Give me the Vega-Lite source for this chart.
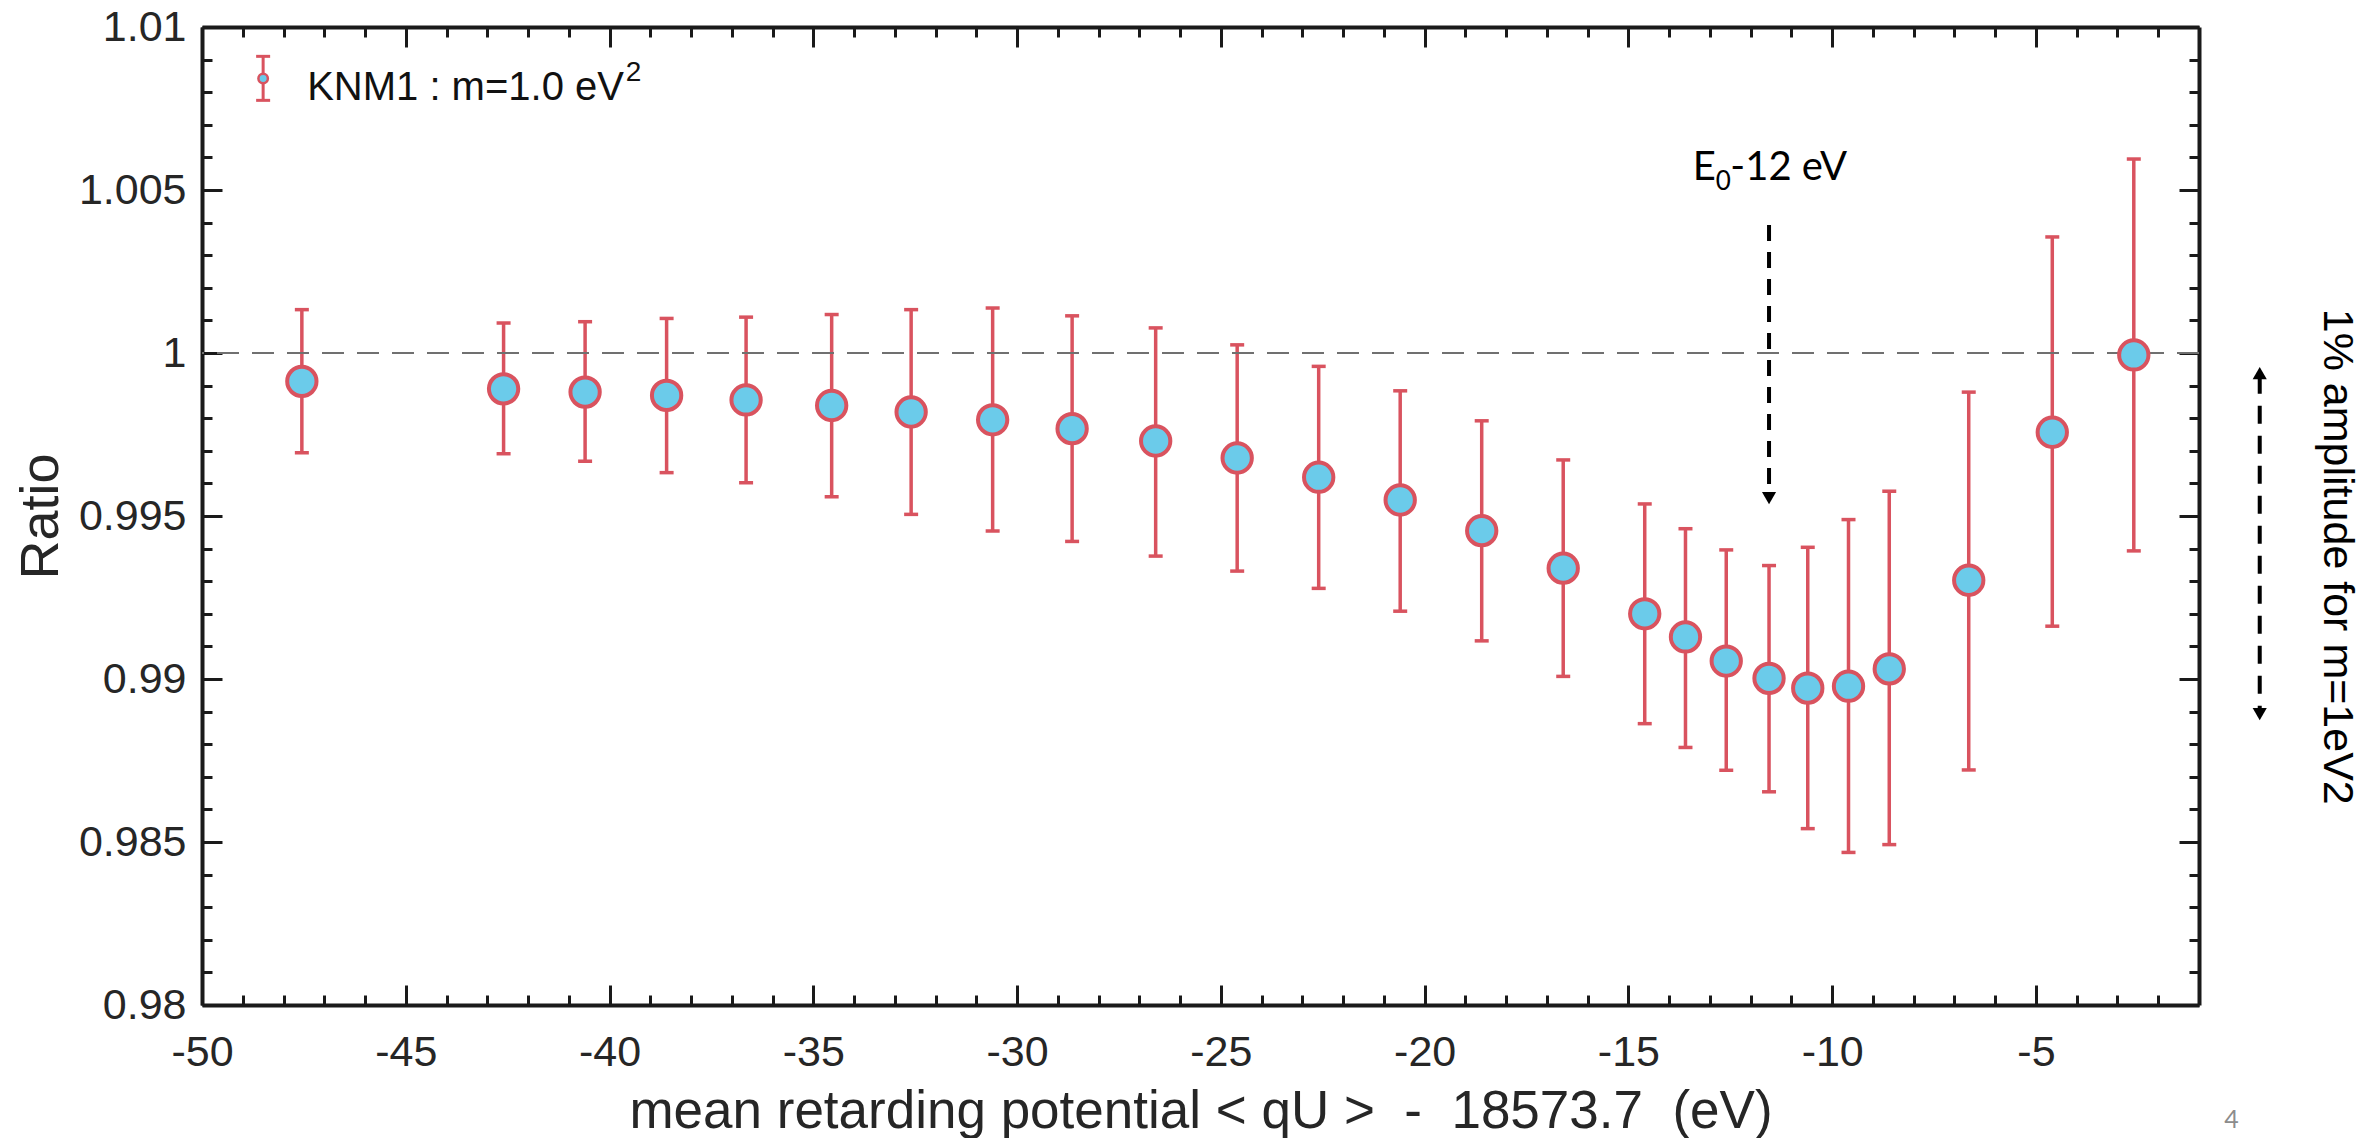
{
  "$schema": "https://vega.github.io/schema/vega-lite/v6.json",
  "width": 1997,
  "height": 978,
  "autosize": "none",
  "padding": {"left": 202, "top": 27, "right": 180, "bottom": 133},
  "background": "white",
  "config": {"view": {"stroke": null}, "font": "Liberation Sans"},
  "datasets": {
    "one": [{"k": 1}]
  },
  "data": {"values": [
    {"x": -47.55, "y": 0.99913, "lo": 0.99694, "hi": 1.00133},
    {"x": -42.6, "y": 0.9989, "lo": 0.99691, "hi": 1.00092},
    {"x": -40.6, "y": 0.9988, "lo": 0.99668, "hi": 1.00096},
    {"x": -38.6, "y": 0.9987, "lo": 0.99633, "hi": 1.00106},
    {"x": -36.65, "y": 0.99856, "lo": 0.99602, "hi": 1.0011},
    {"x": -34.55, "y": 0.99839, "lo": 0.99559, "hi": 1.00118},
    {"x": -32.6, "y": 0.99819, "lo": 0.99505, "hi": 1.00133},
    {"x": -30.6, "y": 0.99795, "lo": 0.99454, "hi": 1.00138},
    {"x": -28.65, "y": 0.99768, "lo": 0.99422, "hi": 1.00114},
    {"x": -26.6, "y": 0.9973, "lo": 0.99377, "hi": 1.00077},
    {"x": -24.6, "y": 0.99678, "lo": 0.99331, "hi": 1.00025},
    {"x": -22.6, "y": 0.99619, "lo": 0.99278, "hi": 0.99959},
    {"x": -20.6, "y": 0.99549, "lo": 0.99208, "hi": 0.99884},
    {"x": -18.6, "y": 0.99455, "lo": 0.99117, "hi": 0.99792},
    {"x": -16.6, "y": 0.9934, "lo": 0.99008, "hi": 0.99672},
    {"x": -14.6, "y": 0.992, "lo": 0.98863, "hi": 0.99537},
    {"x": -13.6, "y": 0.99129, "lo": 0.9879, "hi": 0.99461},
    {"x": -12.6, "y": 0.99055, "lo": 0.9872, "hi": 0.99396},
    {"x": -11.55, "y": 0.99002, "lo": 0.98654, "hi": 0.99348},
    {"x": -10.6, "y": 0.98972, "lo": 0.98541, "hi": 0.99404},
    {"x": -9.6, "y": 0.98978, "lo": 0.98468, "hi": 0.99489},
    {"x": -8.6, "y": 0.99031, "lo": 0.98492, "hi": 0.99576},
    {"x": -6.65, "y": 0.99303, "lo": 0.98721, "hi": 0.9988},
    {"x": -4.6, "y": 0.99757, "lo": 0.99162, "hi": 1.00356},
    {"x": -2.6, "y": 0.99994, "lo": 0.99393, "hi": 1.00595}
  ]},
  "layer": [
    {
      "mark": {"type": "rule", "color": "#D9535F", "strokeWidth": 3.5},
      "encoding": {
        "x": {"field": "x", "type": "quantitative", "scale": {"domain": [-50, -1], "nice": false, "zero": false},
          "axis": {"orient": "bottom", "values": [-50, -45, -40, -35, -30, -25, -20, -15, -10, -5], "tickSize": -20, "tickWidth": 3, "tickColor": "#1a1a1a", "domainColor": "#1a1a1a", "domainWidth": 4, "grid": false,
            "labelExpr": "datum.value + ''", "labelFont": "Liberation Sans", "labelFontSize": 43, "labelColor": "#262626", "labelPadding": 46, "labelFlush": false, "labelOverlap": false,
            "title": "mean retarding potential < qU >\u00a0 -\u00a0 18573.7\u00a0 (eV)", "titleFont": "Liberation Sans", "titleFontSize": 53, "titleFontWeight": "normal", "titleColor": "#262626", "titleY": 122, "titleBaseline": "alphabetic"}},
        "y": {"field": "lo", "type": "quantitative", "scale": {"domain": [0.98, 1.01], "nice": false, "zero": false},
          "axis": {"orient": "left", "values": [0.98, 0.985, 0.99, 0.995, 1, 1.005, 1.01], "tickSize": -20, "tickWidth": 3, "tickColor": "#1a1a1a", "domainColor": "#1a1a1a", "domainWidth": 4, "grid": false,
            "labelExpr": "datum.value + ''", "labelFont": "Liberation Sans", "labelFontSize": 43, "labelColor": "#262626", "labelPadding": 36, "labelFlush": false, "labelOverlap": false,
            "title": "Ratio", "titleFont": "Liberation Sans", "titleFontSize": 54, "titleFontWeight": "normal", "titleColor": "#262626", "titleAngle": -90, "titleAlign": "center", "titleBaseline": "alphabetic", "titleX": -145, "titleY": 489}},
        "y2": {"field": "hi"}
      }
    },
    {
      "mark": {"type": "tick", "orient": "horizontal", "color": "#D9535F", "size": 14, "thickness": 3.5, "opacity": 1},
      "encoding": {
        "x": {"field": "x", "type": "quantitative", "scale": {"domain": [-50, -1], "nice": false, "zero": false},
          "axis": {"orient": "bottom", "values": [-49, -48, -47, -46, -44, -43, -42, -41, -39, -38, -37, -36, -34, -33, -32, -31, -29, -28, -27, -26, -24, -23, -22, -21, -19, -18, -17, -16, -14, -13, -12, -11, -9, -8, -7, -6, -4, -3, -2], "tickSize": -10, "tickWidth": 3, "tickColor": "#1a1a1a", "domain": false, "grid": false, "labels": false, "title": null}},
        "y": {"field": "hi", "type": "quantitative", "scale": {"domain": [0.98, 1.01], "nice": false, "zero": false},
          "axis": {"orient": "left", "values": [0.981, 0.982, 0.983, 0.984, 0.986, 0.987, 0.988, 0.989, 0.991, 0.992, 0.993, 0.994, 0.996, 0.997, 0.998, 0.999, 1.001, 1.002, 1.003, 1.004, 1.006, 1.007, 1.008, 1.009], "tickSize": -10, "tickWidth": 3, "tickColor": "#1a1a1a", "domain": false, "grid": false, "labels": false, "title": null}}
      }
    },
    {
      "mark": {"type": "tick", "orient": "horizontal", "color": "#D9535F", "size": 14, "thickness": 3.5, "opacity": 1},
      "encoding": {
        "x": {"field": "x", "type": "quantitative", "scale": {"domain": [-50, -1], "nice": false, "zero": false},
          "axis": {"orient": "top", "values": [-50, -45, -40, -35, -30, -25, -20, -15, -10, -5], "tickSize": -20, "tickWidth": 3, "tickColor": "#1a1a1a", "domainColor": "#1a1a1a", "domainWidth": 4, "grid": false, "labels": false, "title": null}},
        "y": {"field": "lo", "type": "quantitative", "scale": {"domain": [0.98, 1.01], "nice": false, "zero": false},
          "axis": {"orient": "right", "values": [0.98, 0.985, 0.99, 0.995, 1, 1.005, 1.01], "tickSize": -20, "tickWidth": 3, "tickColor": "#1a1a1a", "domainColor": "#1a1a1a", "domainWidth": 4, "grid": false, "labels": false, "title": null}}
      }
    },
    {
      "data": {"name": "one"},
      "mark": {"type": "rule", "color": "#707070", "strokeWidth": 2, "strokeDash": [22, 13]},
      "encoding": {
        "y": {"datum": 1, "type": "quantitative", "axis": null}
      }
    },
    {
      "mark": {"type": "point", "shape": "circle", "filled": true, "fill": "#6BCBEA", "stroke": "#D9535F", "strokeWidth": 4, "size": 860, "opacity": 1, "fillOpacity": 1},
      "encoding": {
        "x": {"field": "x", "type": "quantitative", "scale": {"domain": [-50, -1], "nice": false, "zero": false},
          "axis": {"orient": "top", "values": [-49, -48, -47, -46, -44, -43, -42, -41, -39, -38, -37, -36, -34, -33, -32, -31, -29, -28, -27, -26, -24, -23, -22, -21, -19, -18, -17, -16, -14, -13, -12, -11, -9, -8, -7, -6, -4, -3, -2], "tickSize": -10, "tickWidth": 3, "tickColor": "#1a1a1a", "domain": false, "grid": false, "labels": false, "title": null}},
        "y": {"field": "y", "type": "quantitative", "scale": {"domain": [0.98, 1.01], "nice": false, "zero": false},
          "axis": {"orient": "right", "values": [0.981, 0.982, 0.983, 0.984, 0.986, 0.987, 0.988, 0.989, 0.991, 0.992, 0.993, 0.994, 0.996, 0.997, 0.998, 0.999, 1.001, 1.002, 1.003, 1.004, 1.006, 1.007, 1.008, 1.009], "tickSize": -10, "tickWidth": 3, "tickColor": "#1a1a1a", "domain": false, "grid": false, "labels": false, "title": null}}
      }
    },
    {
      "data": {"name": "one"},
      "mark": {"type": "rule", "color": "#D9535F", "strokeWidth": 3},
      "encoding": {
        "x": {"datum": -48.5, "type": "quantitative", "axis": null},
        "y": {"datum": 1.00775, "type": "quantitative", "axis": null},
        "y2": {"datum": 1.0091}
      }
    },
    {
      "data": {"name": "one"},
      "mark": {"type": "tick", "orient": "horizontal", "color": "#D9535F", "size": 14, "thickness": 3, "opacity": 1},
      "encoding": {
        "x": {"datum": -48.5, "type": "quantitative", "axis": null},
        "y": {"datum": 1.0091, "type": "quantitative", "axis": null}
      }
    },
    {
      "data": {"name": "one"},
      "mark": {"type": "tick", "orient": "horizontal", "color": "#D9535F", "size": 14, "thickness": 3, "opacity": 1},
      "encoding": {
        "x": {"datum": -48.5, "type": "quantitative", "axis": null},
        "y": {"datum": 1.00775, "type": "quantitative", "axis": null}
      }
    },
    {
      "data": {"name": "one"},
      "mark": {"type": "point", "shape": "circle", "filled": true, "fill": "#6BCBEA", "stroke": "#D9535F", "strokeWidth": 2.5, "size": 90, "opacity": 1},
      "encoding": {
        "x": {"datum": -48.5, "type": "quantitative", "axis": null},
        "y": {"datum": 1.00842, "type": "quantitative", "axis": null}
      }
    },
    {
      "data": {"name": "one"},
      "mark": {"type": "text", "font": "Liberation Sans", "fontSize": 40, "fontWeight": "normal", "color": "#111111", "align": "left", "baseline": "alphabetic"},
      "encoding": {
        "text": {"value": "KNM1 : m=1.0 eV"},
        "x": {"datum": -47.42, "type": "quantitative", "axis": null},
        "y": {"datum": 1.00775, "type": "quantitative", "axis": null}
      }
    },
    {
      "data": {"name": "one"},
      "mark": {"type": "text", "font": "Liberation Sans", "fontSize": 28, "fontWeight": "normal", "color": "#111111", "align": "left", "baseline": "alphabetic"},
      "encoding": {
        "text": {"value": "2"},
        "x": {"datum": -39.6, "type": "quantitative", "axis": null},
        "y": {"datum": 1.00833, "type": "quantitative", "axis": null}
      }
    },
    {
      "data": {"name": "one"},
      "mark": {"type": "text", "font": "Lato", "fontSize": 40, "fontWeight": "normal", "color": "#000000", "align": "left", "baseline": "alphabetic"},
      "encoding": {
        "text": {"value": "E"},
        "x": {"datum": -13.42, "type": "quantitative", "axis": null},
        "y": {"datum": 1.0053, "type": "quantitative", "axis": null}
      }
    },
    {
      "data": {"name": "one"},
      "mark": {"type": "text", "font": "Lato", "fontSize": 26, "fontWeight": "normal", "color": "#000000", "align": "left", "baseline": "alphabetic"},
      "encoding": {
        "text": {"value": "0"},
        "x": {"datum": -12.86, "type": "quantitative", "axis": null},
        "y": {"datum": 1.005, "type": "quantitative", "axis": null}
      }
    },
    {
      "data": {"name": "one"},
      "mark": {"type": "text", "font": "Lato", "fontSize": 40, "fontWeight": "normal", "color": "#000000", "align": "left", "baseline": "alphabetic"},
      "encoding": {
        "text": {"value": "-12 eV"},
        "x": {"datum": -12.5, "type": "quantitative", "axis": null},
        "y": {"datum": 1.0053, "type": "quantitative", "axis": null}
      }
    },
    {
      "data": {"name": "one"},
      "mark": {"type": "rule", "color": "#000000", "strokeWidth": 4, "strokeDash": [16, 11]},
      "encoding": {
        "x": {"datum": -11.55, "type": "quantitative", "axis": null},
        "y": {"datum": 1.00393, "type": "quantitative", "axis": null},
        "y2": {"datum": 0.9958}
      }
    },
    {
      "data": {"name": "one"},
      "mark": {"type": "point", "shape": "triangle-down", "filled": true, "color": "#000000", "size": 200, "opacity": 1},
      "encoding": {
        "x": {"datum": -11.55, "type": "quantitative", "axis": null},
        "y": {"datum": 0.99555, "type": "quantitative", "axis": null}
      }
    },
    {
      "data": {"name": "one"},
      "mark": {"type": "rule", "color": "#000000", "strokeWidth": 4, "strokeDash": [18, 12], "clip": false},
      "encoding": {
        "x": {"datum": 0.49, "type": "quantitative", "axis": null},
        "y": {"datum": 0.9993, "type": "quantitative", "axis": null},
        "y2": {"datum": 0.989}
      }
    },
    {
      "data": {"name": "one"},
      "mark": {"type": "point", "shape": "triangle-up", "filled": true, "color": "#000000", "size": 200, "opacity": 1, "clip": false},
      "encoding": {
        "x": {"datum": 0.49, "type": "quantitative", "axis": null},
        "y": {"datum": 0.99938, "type": "quantitative", "axis": null}
      }
    },
    {
      "data": {"name": "one"},
      "mark": {"type": "point", "shape": "triangle-down", "filled": true, "color": "#000000", "size": 200, "opacity": 1, "clip": false},
      "encoding": {
        "x": {"datum": 0.49, "type": "quantitative", "axis": null},
        "y": {"datum": 0.98892, "type": "quantitative", "axis": null}
      }
    },
    {
      "data": {"name": "one"},
      "mark": {"type": "text", "font": "Liberation Sans", "fontSize": 43, "fontWeight": "normal", "color": "#000000", "align": "center", "baseline": "middle", "angle": 90, "clip": false},
      "encoding": {
        "text": {"value": "1% amplitude for m=1eV2"},
        "x": {"datum": 2.38, "type": "quantitative", "axis": null},
        "y": {"datum": 0.99375, "type": "quantitative", "axis": null}
      }
    },
    {
      "data": {"name": "one"},
      "mark": {"type": "text", "font": "Lato", "fontSize": 25, "fontWeight": "normal", "color": "#8C8C8C", "align": "center", "baseline": "middle", "clip": false},
      "encoding": {
        "text": {"value": "4"},
        "x": {"datum": -0.2, "type": "quantitative", "axis": null},
        "y": {"datum": 0.97647, "type": "quantitative", "axis": null}
      }
    }
  ],
  "resolve": {"axis": {"x": "independent", "y": "independent"}}
}
